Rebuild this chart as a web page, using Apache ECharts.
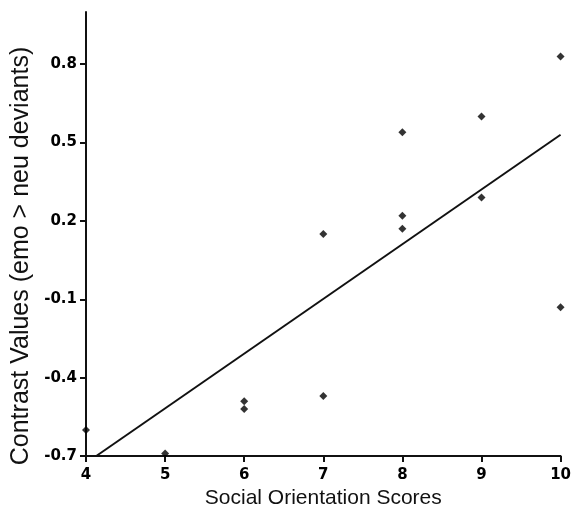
<!DOCTYPE html>
<html>
<head>
<meta charset="utf-8">
<style>html,body{margin:0;padding:0;background:#fff;}#c{width:574px;height:515px;}</style>
<script src="https://cdn.jsdelivr.net/npm/echarts@6/dist/echarts.min.js"></script>
</head>
<body>
<div id="c"></div>
<script>
const xScores = [4, 5, 6, 6, 7, 7, 8, 8, 8, 9, 9, 10, 10];
const contrastValues = [-0.60, -0.69, -0.49, -0.52, -0.47, 0.15, 0.17, 0.22, 0.54, 0.29, 0.60, -0.13, 0.83];
const fitX = [4.13, 10];
const fitY = [-0.70, 0.53];
const xTicks = [4, 5, 6, 7, 8, 9, 10];
const yTicks = [-0.7, -0.4, -0.1, 0.2, 0.5, 0.8];

const points = xScores.map((x, i) => [x, contrastValues[i]]);
const fitLine = fitX.map((x, i) => [x, fitY[i]]);
const tickFont = {fontFamily: '"DejaVu Sans", sans-serif', fontWeight: 'bold', fontSize: 15, color: '#000'};

const chart = echarts.init(document.getElementById('c'), null, {renderer: 'canvas'});
chart.setOption({
  animation: false,
  backgroundColor: '#fff',
  grid: {left: 86, right: 11, top: 12, bottom: 59, containLabel: false},
  xAxis: {
    type: 'value', min: 4, max: 10, interval: 1,
    name: 'Social Orientation Scores', nameLocation: 'middle', nameGap: 30,
    nameTextStyle: {fontFamily: '"Liberation Sans", Arial, sans-serif', fontSize: 21, color: '#111'},
    axisLine: {show: true, onZero: false, lineStyle: {color: '#111', width: 2}},
    axisTick: {show: true, length: 6, lineStyle: {color: '#111', width: 2}, customValues: xTicks},
    axisLabel: Object.assign({margin: 12, customValues: xTicks}, tickFont),
    splitLine: {show: false}
  },
  yAxis: {
    type: 'value', min: -0.7, max: 1.0, interval: 0.3,
    name: 'Contrast Values (emo > neu deviants)', nameLocation: 'middle', nameGap: 51,
    nameTextStyle: {fontFamily: '"Liberation Sans", Arial, sans-serif', fontSize: 25, color: '#111', padding: [0, 44, 0, 0]},
    axisLine: {show: true, onZero: false, lineStyle: {color: '#111', width: 2}},
    axisTick: {show: true, length: 6, lineStyle: {color: '#111', width: 2}, customValues: yTicks},
    axisLabel: Object.assign({margin: 9, customValues: yTicks, formatter: v => String(Math.round(v * 10) / 10)}, tickFont),
    splitLine: {show: false}
  },
  series: [
    {type: 'line', data: fitLine, symbol: 'none', lineStyle: {color: '#111', width: 2}, silent: true, z: 2},
    {type: 'scatter', data: points, symbol: 'diamond', symbolSize: 8, itemStyle: {color: '#000'}, z: 3, clip: false}
  ]
});
</script>
</body>
</html>
